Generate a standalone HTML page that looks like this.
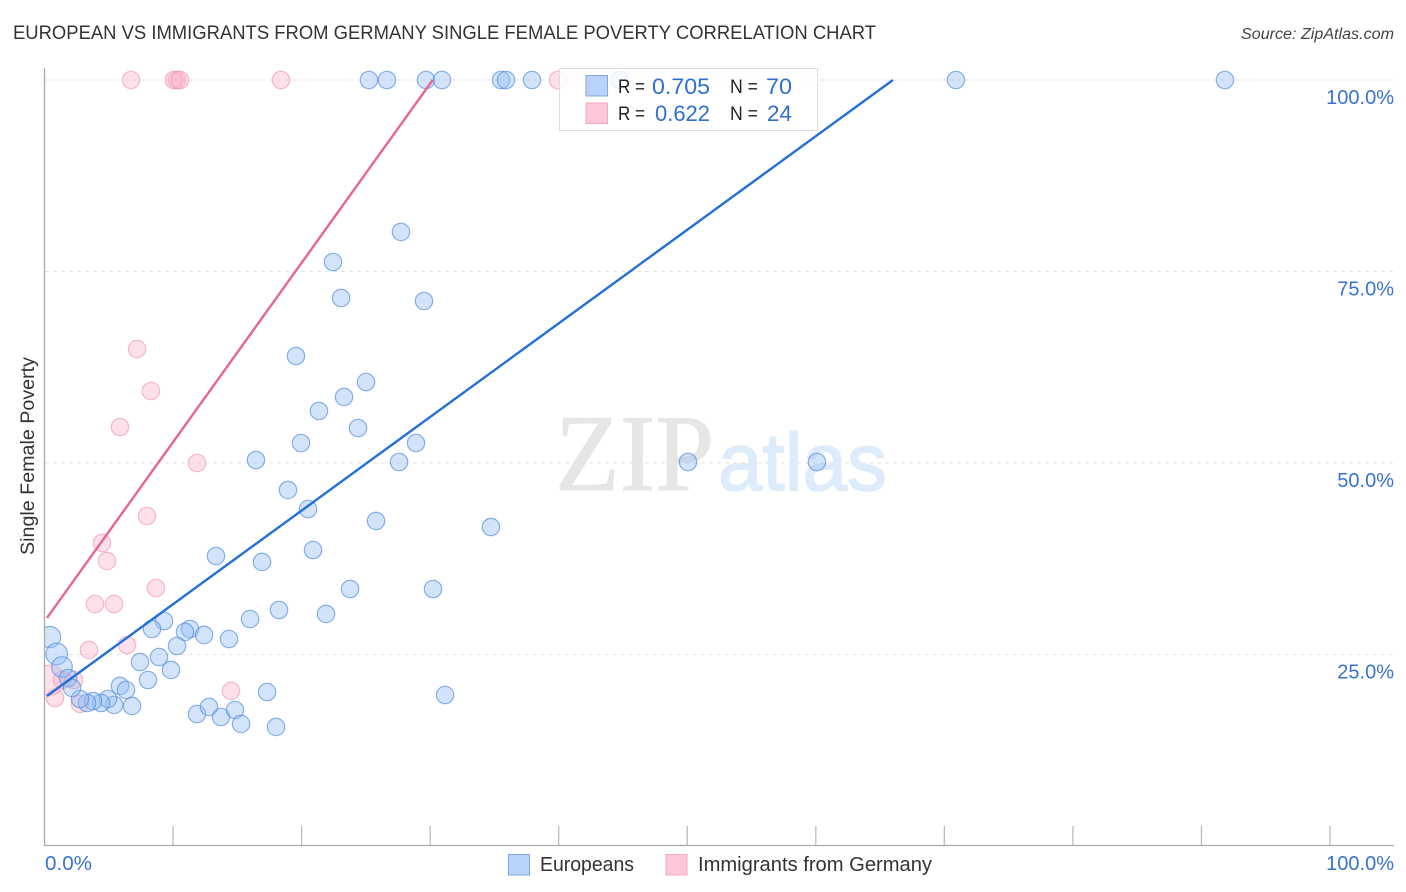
<!DOCTYPE html>
<html lang="en">
<head>
<meta charset="utf-8">
<title>European vs Immigrants from Germany Single Female Poverty Correlation Chart</title>
<style>
  html, body { margin: 0; padding: 0; background: #fff; }
  svg { display: block; font-family: "Liberation Sans", sans-serif; }
</style>
</head>
<body>
<svg id="chart" xmlns="http://www.w3.org/2000/svg" width="1406" height="892" viewBox="0 0 1406 892">
  <defs>
    <clipPath id="plot-clip"><rect x="45" y="60" width="1350" height="786"></rect></clipPath>
  </defs>
  <rect width="1406" height="892" fill="#ffffff"></rect>
  <text x="13" y="39" font-size="19" fill="#333" textLength="863" lengthAdjust="spacingAndGlyphs">EUROPEAN VS IMMIGRANTS FROM GERMANY SINGLE FEMALE POVERTY CORRELATION CHART</text>
  <text x="1394" y="39" font-size="15.5" font-style="italic" fill="#444" text-anchor="end" textLength="153" lengthAdjust="spacingAndGlyphs">Source: ZipAtlas.com</text>

  <g id="grid"></g>

  <text x="555" y="490" font-family="'Liberation Serif', serif" font-size="109" fill="#e6e6e6" stroke="#e6e6e6" stroke-width="1" textLength="159" lengthAdjust="spacingAndGlyphs">ZIP</text>
  <text x="718" y="490" font-family="'Liberation Sans', sans-serif" font-size="82" fill="#deebfb" stroke="#deebfb" stroke-width="1.5" textLength="169" lengthAdjust="spacingAndGlyphs">atlas</text>

  <g id="points" clip-path="url(#plot-clip)"></g>
  <g id="trends" clip-path="url(#plot-clip)"></g>
  <g id="axes"></g>

  <text x="0" y="0" transform="translate(34 456) rotate(-90)" font-size="19" fill="#333" text-anchor="middle" textLength="198" lengthAdjust="spacingAndGlyphs">Single Female Poverty</text>

  <g>
    <rect x="559.5" y="68.5" width="258" height="62" fill="#ffffff" fill-opacity="0.82" stroke="#dddddd"></rect>
    <rect x="586" y="75.5" width="21.5" height="20.5" fill="#b8d3f7" stroke="#7fa9e3"></rect>
    <rect x="586" y="103" width="21.5" height="20.5" fill="#fcc8d8" stroke="#f3a9c0"></rect>
    <text x="618" y="93" font-size="19.5" fill="#222" textLength="27" lengthAdjust="spacingAndGlyphs">R =</text>
    <text x="652" y="94" font-size="22" fill="#2f6fd0" textLength="58" lengthAdjust="spacingAndGlyphs">0.705</text>
    <text x="730" y="93" font-size="19.5" fill="#222" textLength="28" lengthAdjust="spacingAndGlyphs">N =</text>
    <text x="766" y="94" font-size="22" fill="#2f6fd0" textLength="26" lengthAdjust="spacingAndGlyphs">70</text>
    <text x="618" y="120" font-size="19.5" fill="#222" textLength="27" lengthAdjust="spacingAndGlyphs">R =</text>
    <text x="655" y="121" font-size="22" fill="#2f6fd0" textLength="55" lengthAdjust="spacingAndGlyphs">0.622</text>
    <text x="730" y="120" font-size="19.5" fill="#222" textLength="28" lengthAdjust="spacingAndGlyphs">N =</text>
    <text x="767" y="121" font-size="22" fill="#2f6fd0" textLength="25" lengthAdjust="spacingAndGlyphs">24</text>
  </g>

  <g>
    <rect x="508.5" y="854.5" width="21" height="20.5" fill="#b8d3f7" stroke="#7fa9e3"></rect>
    <text x="540" y="871" font-size="20" fill="#333" textLength="94" lengthAdjust="spacingAndGlyphs">Europeans</text>
    <rect x="666" y="854.5" width="21" height="20.5" fill="#fcc8d8" stroke="#f3a9c0"></rect>
    <text x="698" y="871" font-size="20" fill="#333" textLength="234" lengthAdjust="spacingAndGlyphs">Immigrants from Germany</text>
  </g>
</svg>
<script>
const yTicks = [25, 50, 75, 100];
const yTickLabels = ["25.0%", "50.0%", "75.0%", "100.0%"];
const xTicks = [0, 10, 20, 30, 40, 50, 60, 70, 80, 90, 100];
const xEndLabels = ["0.0%", "100.0%"];

const europeanX = [25.24,26.64,29.68,30.92,35.51,35.90,37.92,44.77,70.90,91.83,27.73,22.44,23.07,29.52,19.56,25.01,23.30,21.35,24.39,19.95,28.90,16.45,27.58,50.06,60.09,18.94,20.50,25.79,34.73,20.89,13.34,16.92,23.77,30.22,18.24,21.90,15.99,9.30,8.36,11.32,10.93,12.41,14.35,10.31,0.43,0.95,1.36,1.83,7.43,8.91,9.84,8.05,5.87,6.34,6.81,5.41,4.94,4.40,3.77,3.31,2.76,2.14,11.86,12.80,13.73,14.82,15.29,17.31,18.01,31.16];
const europeanY = [100,100,100,100,100,100,100,100,100,100,80.16,76.24,71.54,71.15,63.97,60.57,58.62,56.79,54.57,52.61,52.61,50.39,50.13,50.13,50.13,46.48,43.99,42.43,41.64,38.64,37.86,37.08,33.55,33.55,30.81,30.29,29.63,29.37,28.33,28.33,27.94,27.55,27.02,26.11,27.28,25.07,23.37,21.93,24.02,24.67,22.98,21.67,20.89,20.37,18.28,18.41,19.19,18.67,18.93,18.67,19.19,20.63,17.23,18.15,16.84,17.75,15.93,20.10,15.54,19.71];
const europeanWeight = [1,1,1,1,1,1,1,1,1,1,1,1,1,1,1,1,1,1,1,1,1,1,1,1,1,1,1,1,1,1,1,1,1,1,1,1,1,1,1,1,1,1,1,1,1.5,1.55,1.4,1,1,1,1,1,1,1,1,1,1,1,1,1,1,1,1,1,1,1,1,1,1,1];

const germanyX = [6.73,10.07,10.31,10.54,18.40,39.95,7.20,8.28,5.87,11.86,7.97,4.47,4.86,8.67,3.93,5.41,6.42,3.46,14.51,0.82,2.76,2.29,1.36,0.43];
const germanyY = [100,100,100,100,100,100,64.88,59.40,54.70,50.00,43.08,39.56,37.21,33.68,31.59,31.59,26.24,25.59,20.24,19.32,18.54,21.67,21.67,21.67];
const germanyWeight = [1,1,1,1,1,1,1,1,1,1,1,1,1,1,1,1,1,1,1,1,1,1,1,3];

const europeanTrendX = [0.19, 66.0];
const europeanTrendY = [19.58, 100];
const germanyTrendX = [0.19, 30.2];
const germanyTrendY = [29.77, 100];

const NS = "http://www.w3.org/2000/svg";
const sx = function (v) { return 44.5 + v * 12.855; };
const sy = function (v) { return 846 - v * 7.66; };
const sr = function (w) { return 8.7 * Math.sqrt(w); };

function make(tag, parent, attrs) {
  const el = document.createElementNS(NS, tag);
  Object.keys(attrs).forEach(function (k) { el.setAttribute(k, attrs[k]); });
  parent.appendChild(el);
  return el;
}

const gridG = document.getElementById("grid");
const axesG = document.getElementById("axes");
const pointsG = document.getElementById("points");
const trendsG = document.getElementById("trends");

yTicks.forEach(function (t, i) {
  const line = make("line", gridG, { x1: 45, x2: 1394, y1: sy(t), y2: sy(t), stroke: "#e2e2e2", "stroke-width": 1, "stroke-dasharray": "4 4" });
  
  
  const label = make("text", axesG, { x: 1394, y: sy(t) + 24, "font-size": 20, fill: "#3a72d2", "text-anchor": "end" });
  label.textContent = yTickLabels[i];
  
  
});

xTicks.forEach(function (t) {
  if (t === 0) return;
  const tick = make("line", axesG, { x1: sx(t), x2: sx(t), y1: 826, y2: 846, stroke: "#bcbcbc", "stroke-width": 1.3 });
  
  
});

const yAxis = make("line", axesG, { x1: 44.5, x2: 44.5, y1: 68, y2: 846, stroke: "#aaaaaa", "stroke-width": 1.3 });


const xAxis = make("line", axesG, { x1: 44, x2: 1394, y1: 845.5, y2: 845.5, stroke: "#aaaaaa", "stroke-width": 1.3 });



const xLabelLeft = make("text", axesG, { x: 45, y: 870, "font-size": 20, fill: "#3a72d2", textLength: 47, lengthAdjust: "spacingAndGlyphs" });
xLabelLeft.textContent = xEndLabels[0];


const xLabelRight = make("text", axesG, { x: 1394, y: 870, "font-size": 20, fill: "#3a72d2", "text-anchor": "end" });
xLabelRight.textContent = xEndLabels[1];



germanyX.forEach(function (v, i) {
  const c = make("circle", pointsG, { cx: sx(v), cy: sy(germanyY[i]), r: sr(germanyWeight[i]), fill: "#f9a8c2", "fill-opacity": 0.36, stroke: "#ee8fae", "stroke-opacity": 0.6, "stroke-width": 1.2 });
  
  
});

europeanX.forEach(function (v, i) {
  const c = make("circle", pointsG, { cx: sx(v), cy: sy(europeanY[i]), r: sr(europeanWeight[i]), fill: "#93bdf2", "fill-opacity": 0.42, stroke: "#4f8bdb", "stroke-opacity": 0.65, "stroke-width": 1.2 });
  
  
});

const germanyTrend = make("line", trendsG, { x1: sx(germanyTrendX[0]), y1: sy(germanyTrendY[0]), x2: sx(germanyTrendX[1]), y2: sy(germanyTrendY[1]), stroke: "#e8658f", "stroke-width": 2.4 });


const europeanTrend = make("line", trendsG, { x1: sx(europeanTrendX[0]), y1: sy(europeanTrendY[0]), x2: sx(europeanTrendX[1]), y2: sy(europeanTrendY[1]), stroke: "#2470d6", "stroke-width": 2.4 });


</script>
</body>
</html>
